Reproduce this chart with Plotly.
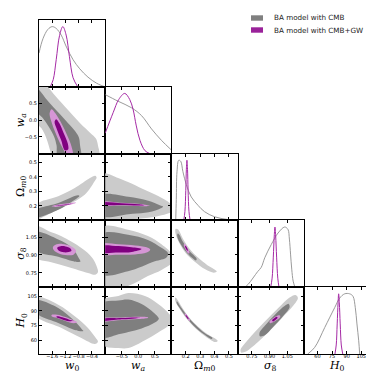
import plotly.graph_objects as go

# ---- parameters ----
params = ["w0", "wa", "Om", "s8", "H0"]
labels = ["<i>w</i><sub>0</sub>", "<i>w<sub>a</sub></i>", "Ω<sub><i>m</i>0</sub>",
          "<i>σ</i><sub>8</sub>", "<i>H</i><sub>0</sub>"]
ranges = {"w0": [-2.0, 0.0], "wa": [-1.0, 1.0], "Om": [0.1, 0.56],
          "s8": [0.63, 1.19], "H0": [46, 114]}
tickvals = {"w0": [-1.6, -1.2, -0.8, -0.4], "wa": [-0.5, 0.0, 0.5],
            "Om": [0.2, 0.3, 0.4, 0.5], "s8": [0.75, 0.90, 1.05], "H0": [60, 75, 90, 105]}
ticktext = {"w0": ["−1.6", "−1.2", "−0.8", "−0.4"], "wa": ["−0.5", "0.0", "0.5"],
            "Om": ["0.2", "0.3", "0.4", "0.5"], "s8": ["0.75", "0.90", "1.05"],
            "H0": ["60", "75", "90", "105"]}

# ---- 1D marginals (normalised to peak = 1) ----
w0_x_cmb = [-2.0, -1.88, -1.73, -1.6, -1.48, -1.33, -1.17, -0.97, -0.77, -0.52, -0.26, -0.06, 0.0]
w0_p_cmb = [0.56, 0.80, 0.955, 1.0, 0.97, 0.86, 0.66, 0.45, 0.30, 0.16, 0.06, 0.01, 0.0]
w0_x_gw = [-1.66, -1.57, -1.48, -1.38, -1.28, -1.18, -1.08, -0.97, -0.83]
w0_p_gw = [0.0, 0.12, 0.45, 0.85, 1.0, 0.86, 0.5, 0.15, 0.0]

wa_x_cmb = [-1.0, -0.61, -0.2, 0.1, 0.4, 0.7, 0.99]
wa_p_cmb = [0.98, 0.87, 0.76, 0.63, 0.41, 0.22, 0.065]
wa_x_gw = [-1.0, -0.76, -0.59, -0.41, -0.26, -0.16, -0.06, 0.05, 0.2, 0.35]
wa_p_gw = [0.34, 0.68, 0.90, 1.0, 0.90, 0.74, 0.46, 0.22, 0.05, 0.0]

Om_x_cmb = [0.13, 0.134, 0.139, 0.151, 0.165, 0.18, 0.204, 0.238, 0.285, 0.33, 0.40, 0.49, 0.56]
Om_p_cmb = [0.0, 0.35, 0.81, 1.0, 0.98, 0.81, 0.59, 0.39, 0.25, 0.145, 0.06, 0.015, 0.0]
Om_x_gw = [0.186, 0.194, 0.2, 0.204, 0.208, 0.212, 0.216, 0.222, 0.23]
Om_p_gw = [0.0, 0.15, 0.5, 0.85, 1.0, 0.85, 0.5, 0.15, 0.0]

s8_x_cmb = [0.69, 0.72, 0.80, 0.83, 0.86, 0.915, 0.972, 1.028, 1.056, 1.068, 1.078, 1.088, 1.10, 1.115]
s8_p_cmb = [0.0, 0.05, 0.26, 0.33, 0.49, 0.71, 0.9, 1.0, 0.96, 0.8, 0.55, 0.3, 0.1, 0.0]
s8_x_gw = [0.91, 0.922, 0.932, 0.94, 0.946, 0.952, 0.96, 0.97, 0.98]
s8_p_gw = [0.0, 0.15, 0.5, 0.85, 1.0, 0.85, 0.5, 0.15, 0.0]

H0_x_cmb = [50, 57.2, 67.5, 77.7, 82.9, 88, 93.1, 96.5, 98.9, 100.6, 102.4, 103.4]
H0_p_cmb = [0.0, 0.11, 0.44, 0.77, 0.93, 1.0, 1.0, 0.96, 0.77, 0.5, 0.22, 0.0]
H0_x_gw = [78, 79.3, 80.3, 81.2, 81.8, 82.5, 83.4, 84.5, 86]
H0_p_gw = [0.0, 0.15, 0.5, 0.85, 1.0, 0.85, 0.5, 0.15, 0.0]

# ---- 2D contours (outer = 95%, inner = 68%) ----
w0_wa_cmb_outer = [(-2.1, 1.15), (-1.85, 1.1), (-1.55, 0.78), (-1.3, 0.5), (-1.0, 0.17), (-0.75, -0.1),
                   (-0.45, -0.38), (-0.28, -0.55), (-0.22, -0.75), (-0.2, -1.1), (-1.6, -1.1),
                   (-1.65, -0.95), (-1.78, -0.53), (-1.92, -0.25), (-2.1, -0.05)]
w0_wa_cmb_inner = [(-2.1, 0.98), (-1.75, 0.6), (-1.5, 0.32), (-1.2, 0.0), (-0.95, -0.28), (-0.8, -0.5),
                   (-0.76, -0.75), (-0.75, -1.1), (-1.42, -1.1), (-1.47, -0.75), (-1.54, -0.5),
                   (-1.7, -0.2), (-1.9, 0.08), (-2.1, 0.3)]
w0_wa_gw_outer = [(-1.62, 0.33), (-1.5, 0.2), (-1.32, -0.1), (-1.15, -0.45), (-1.02, -0.78), (-0.98, -1.05),
                  (-1.1, -1.12), (-1.28, -0.85), (-1.45, -0.5), (-1.6, -0.12), (-1.68, 0.2)]
w0_wa_gw_inner = [(-1.48, 0.03), (-1.38, -0.1), (-1.25, -0.4), (-1.13, -0.7), (-1.12, -0.88),
                  (-1.22, -0.9), (-1.33, -0.6), (-1.45, -0.3), (-1.53, -0.05)]

w0_Om_cmb_outer = [(-2.1, 0.205), (-1.42, 0.266), (-0.92, 0.323), (-0.46, 0.392), (-0.3, 0.408),
                   (-0.26, 0.395), (-0.32, 0.37), (-0.62, 0.277), (-1.12, 0.208), (-1.63, 0.151),
                   (-1.93, 0.116), (-2.1, 0.09)]
w0_Om_cmb_inner = [(-2.1, 0.168), (-1.42, 0.22), (-0.82, 0.273), (-0.78, 0.268), (-0.92, 0.242),
                   (-1.42, 0.173), (-2.1, 0.122)]
w0_Om_gw_outer = [(-1.62, 0.197), (-1.5, 0.206), (-1.25, 0.215), (-1.0, 0.222), (-0.88, 0.222),
                  (-1.0, 0.212), (-1.25, 0.201), (-1.5, 0.193)]
w0_Om_gw_inner = [(-1.5, 0.2), (-1.35, 0.206), (-1.15, 0.212), (-1.02, 0.215), (-1.15, 0.208),
                  (-1.35, 0.202)]

wa_Om_cmb_outer = [(-1.1, 0.42), (-0.61, 0.392), (-0.31, 0.364), (0.14, 0.316), (0.6, 0.268),
                   (0.95, 0.22), (1.05, 0.19), (1.0, 0.16), (0.7, 0.135), (0.3, 0.118),
                   (-0.3, 0.108), (-1.1, 0.105)]
wa_Om_cmb_inner = [(-1.1, 0.272), (-0.3, 0.262), (0.3, 0.235), (0.65, 0.205), (0.75, 0.195),
                   (0.6, 0.175), (0.2, 0.152), (-0.3, 0.143), (-1.1, 0.132)]
wa_Om_gw_outer = [(-1.1, 0.228), (-0.5, 0.222), (0.0, 0.214), (0.25, 0.206), (0.35, 0.202),
                  (0.25, 0.198), (0.0, 0.199), (-0.5, 0.203), (-1.1, 0.206)]
wa_Om_gw_inner = [(-1.1, 0.222), (-0.5, 0.218), (0.0, 0.211), (0.18, 0.205), (0.0, 0.203),
                  (-0.5, 0.206), (-1.1, 0.21)]

w0_s8_cmb_outer = [(-2.1, 1.14), (-1.7, 1.1), (-1.32, 1.057), (-0.72, 0.959), (-0.4, 0.88),
                   (-0.25, 0.8), (-0.22, 0.755), (-0.3, 0.735), (-0.52, 0.75), (-1.12, 0.8),
                   (-1.63, 0.84), (-2.1, 0.88)]
w0_s8_cmb_inner = [(-2.1, 1.09), (-1.42, 1.03), (-1.0, 0.96), (-0.8, 0.875), (-0.75, 0.845),
                   (-0.85, 0.842), (-1.0, 0.85), (-1.42, 0.885), (-2.1, 0.94)]
w0_s8_gw_outer = [(-1.58, 0.965), (-1.5, 0.985), (-1.3, 0.993), (-1.05, 0.975), (-0.88, 0.935),
                  (-0.95, 0.905), (-1.15, 0.898), (-1.4, 0.913), (-1.55, 0.94)]
w0_s8_gw_inner = [(-1.45, 0.96), (-1.35, 0.973), (-1.2, 0.972), (-1.05, 0.955), (-1.02, 0.935),
                  (-1.1, 0.925), (-1.25, 0.922), (-1.4, 0.935)]

wa_s8_cmb_outer = [(-1.1, 1.13), (-0.31, 1.112), (0.29, 1.059), (0.7, 0.99), (1.03, 0.9),
                   (1.03, 0.84), (0.7, 0.775), (0.29, 0.724), (-0.31, 0.64), (-1.1, 0.6)]
wa_s8_cmb_inner = [(-1.1, 1.075), (-0.31, 1.07), (0.29, 1.026), (0.7, 0.96), (0.9, 0.915),
                   (0.85, 0.88), (0.5, 0.847), (-0.31, 0.763), (-1.1, 0.74)]
wa_s8_gw_outer = [(-1.15, 0.99), (-0.6, 0.99), (-0.1, 0.98), (0.25, 0.965), (0.36, 0.945),
                  (0.25, 0.92), (-0.1, 0.905), (-0.6, 0.903), (-1.15, 0.91)]
wa_s8_gw_inner = [(-1.15, 0.973), (-0.6, 0.975), (-0.2, 0.965), (0.1, 0.95), (-0.2, 0.925),
                  (-0.6, 0.92), (-1.15, 0.925)]

Om_s8_cmb_outer = [(0.13, 1.12), (0.145, 1.115), (0.185, 1.025), (0.23, 0.945), (0.285, 0.878),
                   (0.35, 0.815), (0.405, 0.775), (0.415, 0.762), (0.395, 0.752), (0.335, 0.78),
                   (0.26, 0.845), (0.2, 0.915), (0.155, 1.0), (0.128, 1.085)]
Om_s8_cmb_inner = [(0.145, 1.08), (0.155, 1.07), (0.18, 1.01), (0.22, 0.94), (0.275, 0.87),
                   (0.272, 0.855), (0.21, 0.915), (0.165, 0.99), (0.14, 1.06)]
Om_s8_gw_outer = [(0.19, 0.995), (0.199, 0.985), (0.214, 0.952), (0.226, 0.92), (0.22, 0.912),
                  (0.206, 0.93), (0.192, 0.96), (0.186, 0.985)]
Om_s8_gw_inner = [(0.197, 0.977), (0.204, 0.97), (0.213, 0.948), (0.215, 0.938), (0.21, 0.937),
                  (0.2, 0.955), (0.195, 0.97)]

w0_H0_cmb_outer = [(-2.1, 104), (-1.42, 96.2), (-0.92, 84.4), (-0.52, 72.5), (-0.3, 63),
                   (-0.22, 58.5), (-0.31, 56.2), (-0.72, 62.3), (-1.32, 72.5), (-2.1, 85)]
w0_H0_cmb_inner = [(-2.1, 100.5), (-1.42, 92.8), (-0.92, 79.3), (-0.7, 71), (-0.66, 69.5),
                   (-0.8, 69.5), (-0.92, 70.5), (-1.42, 77.6), (-2.1, 88.5)]
w0_H0_gw_outer = [(-1.62, 85.8), (-1.45, 86), (-1.2, 83.6), (-0.95, 80.2), (-0.84, 78.2),
                  (-0.95, 77.4), (-1.2, 79.6), (-1.45, 82.6), (-1.62, 84.4)]
w0_H0_gw_inner = [(-1.47, 84.3), (-1.3, 83.4), (-1.1, 81.2), (-0.98, 79.8), (-1.1, 79.4),
                  (-1.3, 81.2), (-1.47, 83.3)]

wa_H0_cmb_outer = [(-1.1, 100), (-0.6, 105), (-0.3, 108), (0.2, 105), (0.6, 97), (0.9, 88),
                   (1.05, 81), (0.9, 74.5), (0.6, 68), (0.2, 60), (-0.3, 52), (-0.6, 52), (-1.1, 56)]
wa_H0_cmb_inner = [(-1.1, 97.5), (-0.6, 100.5), (-0.3, 101.5), (0.1, 97), (0.4, 90), (0.6, 83.5),
                   (0.62, 82), (0.5, 78), (0.1, 72), (-0.3, 68.5), (-0.6, 66), (-1.1, 63)]
wa_H0_gw_outer = [(-1.15, 82.1), (-0.5, 83.2), (0.0, 84.0), (0.2, 83.8), (0.3, 83.0), (0.2, 82.2),
                  (0.0, 81.6), (-0.5, 80.6), (-1.15, 79.5)]
wa_H0_gw_inner = [(-1.15, 81.5), (-0.5, 82.6), (-0.1, 83.2), (0.05, 82.8), (-0.1, 82.2),
                  (-0.5, 81.3), (-1.15, 80.1)]

Om_H0_cmb_outer = [(0.128, 103.5), (0.14, 101.8), (0.172, 94.2), (0.218, 84.2), (0.268, 76.2),
                   (0.337, 67.6), (0.415, 60.5), (0.422, 59.2), (0.405, 58.2), (0.325, 65.2),
                   (0.256, 73.8), (0.206, 81.8), (0.158, 91.8), (0.126, 100.5)]
Om_H0_cmb_inner = [(0.138, 99.8), (0.17, 92.8), (0.216, 83.7), (0.266, 75.7), (0.333, 67.0),
                   (0.385, 62.2), (0.38, 61.2), (0.329, 65.8), (0.258, 74.3), (0.208, 82.3),
                   (0.16, 92.2), (0.136, 98)]
Om_H0_gw_outer = [(0.194, 87.5), (0.202, 86.6), (0.218, 83.5), (0.23, 80.5), (0.226, 79.5),
                  (0.212, 81.8), (0.198, 84.8), (0.192, 86.5)]
Om_H0_gw_inner = [(0.2, 85.8), (0.206, 85.2), (0.216, 83), (0.22, 82), (0.216, 81.6),
                  (0.207, 83.2), (0.199, 85.0)]

s8_H0_cmb_outer = [(0.655, 50.5), (0.70, 58), (0.80, 71.5), (0.9, 84), (1.0, 96), (1.07, 103.5),
                   (1.12, 106), (1.14, 103), (1.1, 95), (1.0, 82), (0.9, 69.5), (0.8, 58),
                   (0.7, 48.5), (0.66, 47.5)]
s8_H0_cmb_inner = [(0.815, 67.5), (0.87, 76), (0.95, 86.5), (1.03, 95), (1.062, 97), (1.07, 93.5),
                   (1.01, 84), (0.93, 73.5), (0.86, 65), (0.82, 64)]
s8_H0_gw_outer = [(0.9, 79), (0.93, 82.5), (0.965, 85), (0.988, 85.2), (0.99, 83.5), (0.96, 80.5),
                  (0.93, 78.2), (0.905, 77.3)]
s8_H0_gw_inner = [(0.922, 80.4), (0.94, 82.5), (0.962, 84), (0.968, 82.8), (0.952, 80.8),
                  (0.93, 79.2)]

marginals = {
    "w0": (w0_x_cmb, w0_p_cmb, w0_x_gw, w0_p_gw),
    "wa": (wa_x_cmb, wa_p_cmb, wa_x_gw, wa_p_gw),
    "Om": (Om_x_cmb, Om_p_cmb, Om_x_gw, Om_p_gw),
    "s8": (s8_x_cmb, s8_p_cmb, s8_x_gw, s8_p_gw),
    "H0": (H0_x_cmb, H0_p_cmb, H0_x_gw, H0_p_gw),
}
contours = {
    ("w0", "wa"): (w0_wa_cmb_outer, w0_wa_cmb_inner, w0_wa_gw_outer, w0_wa_gw_inner),
    ("w0", "Om"): (w0_Om_cmb_outer, w0_Om_cmb_inner, w0_Om_gw_outer, w0_Om_gw_inner),
    ("wa", "Om"): (wa_Om_cmb_outer, wa_Om_cmb_inner, wa_Om_gw_outer, wa_Om_gw_inner),
    ("w0", "s8"): (w0_s8_cmb_outer, w0_s8_cmb_inner, w0_s8_gw_outer, w0_s8_gw_inner),
    ("wa", "s8"): (wa_s8_cmb_outer, wa_s8_cmb_inner, wa_s8_gw_outer, wa_s8_gw_inner),
    ("Om", "s8"): (Om_s8_cmb_outer, Om_s8_cmb_inner, Om_s8_gw_outer, Om_s8_gw_inner),
    ("w0", "H0"): (w0_H0_cmb_outer, w0_H0_cmb_inner, w0_H0_gw_outer, w0_H0_gw_inner),
    ("wa", "H0"): (wa_H0_cmb_outer, wa_H0_cmb_inner, wa_H0_gw_outer, wa_H0_gw_inner),
    ("Om", "H0"): (Om_H0_cmb_outer, Om_H0_cmb_inner, Om_H0_gw_outer, Om_H0_gw_inner),
    ("s8", "H0"): (s8_H0_cmb_outer, s8_H0_cmb_inner, s8_H0_gw_outer, s8_H0_gw_inner),
}

fill_colors = ["#cbcbcb", "#7f7f7f", "#d696d6", "#800080"]
gray_line = "#8f8f8f"
purple_line = "#a52aa5"

W = 374
col_edges = [31, 97.2, 163.4, 229.6, 295.8, 362]
row_edges = [12, 78.8, 145.6, 212.4, 279.2, 346]

tick_font = dict(family="DejaVu Sans", size=5, color="black")
fig = go.Figure()
layout = {}


def poly(pts, color, xa, ya):
    xs = [p[0] for p in pts] + [pts[0][0]]
    ys = [p[1] for p in pts] + [pts[0][1]]
    return go.Scatter(x=xs, y=ys, xaxis=xa, yaxis=ya, mode="lines", fill="toself",
                      fillcolor=color, line=dict(width=0, shape="spline", smoothing=1),
                      hoverinfo="skip", showlegend=False)


def axis_style(dom, anchor, rng, **kw):
    d = dict(domain=dom, anchor=anchor, range=rng, showline=True, linecolor="black",
             linewidth=1, showgrid=False, zeroline=False, tickangle=0, tickfont=tick_font)
    d.update(kw)
    return d


k = 0
for i in range(5):
    for j in range(i + 1):
        k += 1
        xa = "x" if k == 1 else "x%d" % k
        ya = "y" if k == 1 else "y%d" % k
        px, py = params[j], params[i]
        xdom = [col_edges[j] / W, col_edges[j + 1] / W]
        ydom = [1 - row_edges[i + 1] / W, 1 - row_edges[i] / W]
        xaxis = axis_style(xdom, ya, ranges[px], tickvals=tickvals[px], ticktext=ticktext[px],
                           ticks="inside", ticklen=3, tickwidth=0.8, tickcolor="black",
                           mirror="ticks", showticklabels=(i == 4), ticklabelstandoff=-3)
        if i == j:
            x_c, p_c, x_g, p_g = marginals[px]
            fig.add_trace(go.Scatter(x=x_c, y=p_c, xaxis=xa, yaxis=ya, mode="lines",
                                     line=dict(color=gray_line, width=0.9, shape="spline"),
                                     hoverinfo="skip", showlegend=False))
            fig.add_trace(go.Scatter(x=x_g, y=p_g, xaxis=xa, yaxis=ya, mode="lines",
                                     line=dict(color=purple_line, width=1.0, shape="spline"),
                                     hoverinfo="skip", showlegend=False))
            yaxis = axis_style(ydom, xa, [0, 1.11], showticklabels=False, ticks="", mirror=True)
        else:
            for pts, col in zip(contours[(px, py)], fill_colors):
                fig.add_trace(poly(pts, col, xa, ya))
            yaxis = axis_style(ydom, xa, ranges[py], tickvals=tickvals[py], ticktext=ticktext[py],
                               ticks="inside", ticklen=3, tickwidth=0.8, tickcolor="black",
                               mirror="ticks", showticklabels=(j == 0))
        layout["xaxis" if k == 1 else "xaxis%d" % k] = xaxis
        layout["yaxis" if k == 1 else "yaxis%d" % k] = yaxis

annotations = []
title_font = dict(family="DejaVu Serif", size=11, color="black")
for j in range(5):
    annotations.append(dict(x=(col_edges[j] + col_edges[j + 1]) / 2 / W, y=1 - 358 / W,
                            xref="paper", yref="paper", text=labels[j], showarrow=False,
                            font=title_font, xanchor="center", yanchor="middle", borderpad=0))
for i in range(1, 5):
    annotations.append(dict(x=13 / W, y=1 - (row_edges[i] + row_edges[i + 1]) / 2 / W,
                            xref="paper", yref="paper", text=labels[i], showarrow=False,
                            textangle=-90, font=title_font, xanchor="center", yanchor="middle",
                            borderpad=0))

legend_names = ["BA model with CMB", "BA model with CMB+GW"]
legend_colors = ["#808080", "#9a229a"]
shapes = []
for n, (name, col) in enumerate(zip(legend_names, legend_colors)):
    yc = 10 + 12 * n
    shapes.append(dict(type="rect", xref="paper", yref="paper", x0=243 / W, x1=255 / W,
                       y0=1 - (yc + 2.7) / W, y1=1 - (yc - 2.7) / W,
                       fillcolor=col, line=dict(width=0)))
    annotations.append(dict(x=264 / W, y=1 - yc / W, xref="paper", yref="paper", text=name,
                            showarrow=False, xanchor="left", yanchor="middle",
                            font=dict(family="DejaVu Sans", size=7.2, color="#222222")))

fig.update_layout(width=374, height=374, margin=dict(l=0, r=0, t=0, b=0),
                  paper_bgcolor="white", plot_bgcolor="white",
                  annotations=annotations, shapes=shapes, **layout)
fig.write_html("out.html")
